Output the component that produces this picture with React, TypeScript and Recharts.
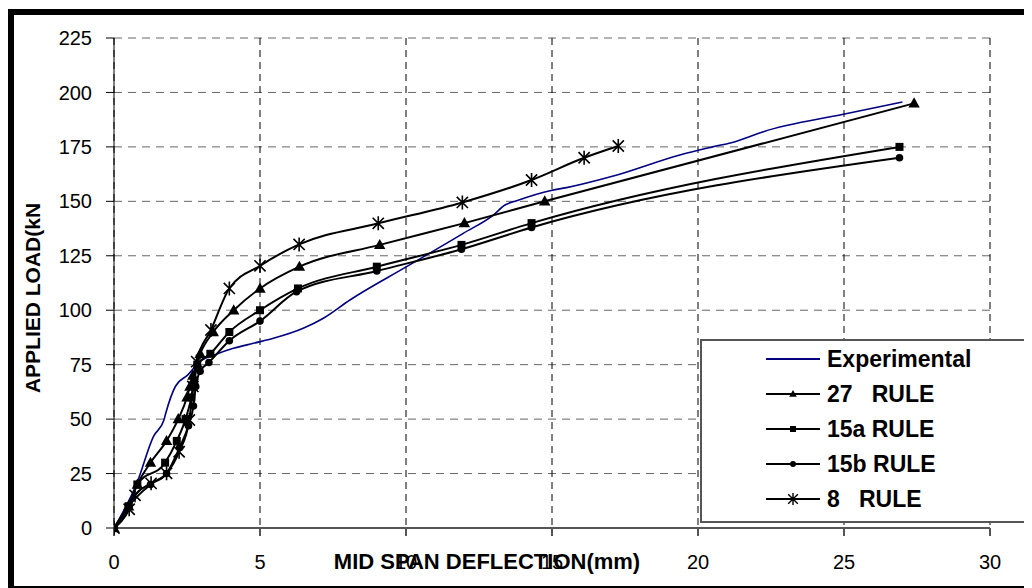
import React from 'react';
import { LineChart, Line, XAxis, YAxis, CartesianGrid } from 'recharts';

const xTicks = [0, 5, 10, 15, 20, 25, 30];
const yTicks = [0, 25, 50, 75, 100, 125, 150, 175, 200, 225];

const expX = [0, 0.78, 1.35, 1.71, 1.77, 2.11, 2.52, 2.95, 3.52, 4.09, 4.77, 5.46, 6.48, 7.17, 8.08, 10.02, 11.96, 12.99, 13.39, 13.79, 14.93, 15.5, 17.1, 19.38, 20.5, 21.27, 22.24, 24.98, 27.0];
const expY = [0, 20.5, 42, 49.6, 52.6, 65.2, 70.2, 76.4, 79.9, 82.5, 84.8, 87.1, 91.7, 96.3, 104.7, 120, 135.3, 143.7, 148.3, 150.3, 154.9, 156.3, 161.6, 171.3, 175, 177.4, 182, 190, 195.6];

const r27X = [0, 0.5, 0.8, 1.25, 1.8, 2.2, 2.5, 2.6, 2.7, 2.95, 3.4, 4.1, 5.0, 6.35, 9.1, 12.0, 14.75, 27.4];
const r27Y = [0, 10, 20, 30, 40, 50, 60, 65, 70, 80, 90, 100, 110, 120, 130, 140, 150, 195];

const r15aX = [0, 0.5, 0.8, 1.75, 2.15, 2.45, 2.65, 2.75, 2.85, 3.3, 3.95, 5.0, 6.3, 9.0, 11.9, 14.3, 26.9];
const r15aY = [0, 10, 20, 30, 40, 50, 60, 67, 75, 80, 90, 100, 110, 120, 130, 140, 175];

const r15bX = [0, 0.5, 1.25, 1.8, 2.25, 2.55, 2.72, 2.8, 2.95, 3.25, 3.95, 5.0, 6.25, 9.0, 11.9, 14.3, 26.9];
const r15bY = [0, 10, 20, 25, 37, 47, 56, 65, 72, 76, 86, 95, 108.5, 118, 128, 138, 170];

const r8X = [0, 0.52, 0.72, 1.27, 1.8, 2.23, 2.58, 2.7, 2.83, 3.32, 3.95, 5.0, 6.34, 9.05, 11.93, 14.3, 16.1, 17.27];
const r8Y = [0, 8.6, 15, 20.5, 25.1, 35, 49.6, 65, 76.4, 90.9, 110, 120.4, 130.2, 139.9, 149.5, 159.8, 170, 175.4];

const toPoints = (xs: number[], ys: number[]) => xs.map((x, i) => ({ x, y: ys[i] }));

const FONT = '"Liberation Sans", Arial, sans-serif';

function tri(cx: number, cy: number, s: number) {
  return `M${cx},${cy - s}L${cx + s * 0.95},${cy + s * 0.7}L${cx - s * 0.95},${cy + s * 0.7}Z`;
}

function star(cx: number, cy: number, r: number) {
  const d = r * 0.8;
  return `M${cx},${cy - r}L${cx},${cy + r}M${cx - d},${cy - d}L${cx + d},${cy + d}M${cx - d},${cy + d}L${cx + d},${cy - d}`;
}

const TriDot = (p: any) =>
  p.cx == null ? null : <path key={`t${p.index}`} d={tri(p.cx, p.cy, 6)} fill="#000" />;
const SqDot = (p: any) =>
  p.cx == null ? null : <rect key={`s${p.index}`} x={p.cx - 4} y={p.cy - 4} width={8} height={8} fill="#000" />;
const CirDot = (p: any) =>
  p.cx == null ? null : <circle key={`c${p.index}`} cx={p.cx} cy={p.cy} r={3.8} fill="#000" />;
const StarDot = (p: any) =>
  p.cx == null ? null : <path key={`a${p.index}`} d={star(p.cx, p.cy, 7)} stroke="#000" strokeWidth={1.6} fill="none" />;

const legendItems = [
  { name: 'Experimental', color: '#000080', marker: 'none' },
  { name: '27   RULE', color: '#000', marker: 'tri' },
  { name: '15a RULE', color: '#000', marker: 'sq' },
  { name: '15b RULE', color: '#000', marker: 'cir' },
  { name: '8   RULE', color: '#000', marker: 'star' },
];

function LegendMarker({ marker, color }: { marker: string; color: string }) {
  return (
    <svg width={54} height={14} style={{ display: 'block' }}>
      <line x1={0} y1={7} x2={54} y2={7} stroke={color} strokeWidth={2} />
      {marker === 'tri' && <path d={tri(27, 7, 4)} fill="#000" />}
      {marker === 'sq' && <rect x={24} y={4} width={6} height={6} fill="#000" />}
      {marker === 'cir' && <circle cx={27} cy={7} r={3} fill="#000" />}
      {marker === 'star' && <path d={star(27, 7, 6)} stroke="#000" strokeWidth={1.4} fill="none" />}
    </svg>
  );
}

export default function App() {
  return (
    <div style={{ position: 'relative', width: 1024, height: 580, overflow: 'hidden', background: '#fff', fontFamily: FONT }}>
      <LineChart width={1024} height={580} margin={{ top: 30, right: 42, left: 46, bottom: 30 }}>
        <CartesianGrid horizontal={true} vertical={false} stroke="#666" strokeDasharray="8 6" />
        <CartesianGrid horizontal={false} vertical={true} stroke="#000" strokeDasharray="7 5" />
        <XAxis
          type="number"
          dataKey="x"
          domain={[0, 30]}
          ticks={xTicks}
          allowDataOverflow
          height={30}
          tickSize={8}
          tickMargin={19}
          stroke="#555"
          strokeWidth={2}
          tick={{ fontSize: 20, fill: '#000', fontFamily: FONT }}
        />
        <YAxis
          type="number"
          dataKey="y"
          domain={[0, 225]}
          ticks={yTicks}
          width={60}
          tickSize={8}
          tickMargin={14}
          stroke="#000"
          tick={{ fontSize: 20, fill: '#000', fontFamily: FONT }}
        />
        <Line data={toPoints(expX, expY)} dataKey="y" type="monotone" stroke="#000080" strokeWidth={1.6} dot={false} isAnimationActive={false} />
        <Line data={toPoints(r27X, r27Y)} dataKey="y" type="monotone" stroke="#000" strokeWidth={2} dot={TriDot} isAnimationActive={false} />
        <Line data={toPoints(r15aX, r15aY)} dataKey="y" type="monotone" stroke="#000" strokeWidth={2} dot={SqDot} isAnimationActive={false} />
        <Line data={toPoints(r15bX, r15bY)} dataKey="y" type="monotone" stroke="#000" strokeWidth={2} dot={CirDot} isAnimationActive={false} />
        <Line data={toPoints(r8X, r8Y)} dataKey="y" type="monotone" stroke="#000" strokeWidth={2} dot={StarDot} isAnimationActive={false} />
      </LineChart>

      {/* outer frame */}
      <div style={{ position: 'absolute', left: 0, top: 1, width: 1040, height: 571, borderLeft: '6px solid #000', borderTop: '6px solid #000', borderBottom: '2px solid #000', pointerEvents: 'none' }} />

      {/* axis titles */}
      <div style={{ position: 'absolute', left: 479, top: 554, transform: 'translate(-50%, -50%)', fontWeight: 'bold', fontSize: 22, whiteSpace: 'nowrap' }}>
        MID SPAN DEFLECTION(mm)
      </div>
      <div style={{ position: 'absolute', left: 25, top: 290, transform: 'translate(-50%, -50%) rotate(-90deg)', fontWeight: 'bold', fontSize: 21, whiteSpace: 'nowrap' }}>
        APPLIED LOAD(kN
      </div>

      {/* legend */}
      <div style={{ position: 'absolute', left: 692, top: 331, width: 400, height: 180, border: '2px solid #555', background: '#fff' }}>
        {legendItems.map((it, i) => (
          <div key={it.name} style={{ position: 'absolute', left: 64, top: 3 + i * 35, height: 30, display: 'flex', alignItems: 'center' }}>
            <LegendMarker marker={it.marker} color={it.color} />
            <span style={{ marginLeft: 7, fontWeight: 'bold', fontSize: 23, whiteSpace: 'pre' }}>{it.name}</span>
          </div>
        ))}
      </div>
    </div>
  );
}
